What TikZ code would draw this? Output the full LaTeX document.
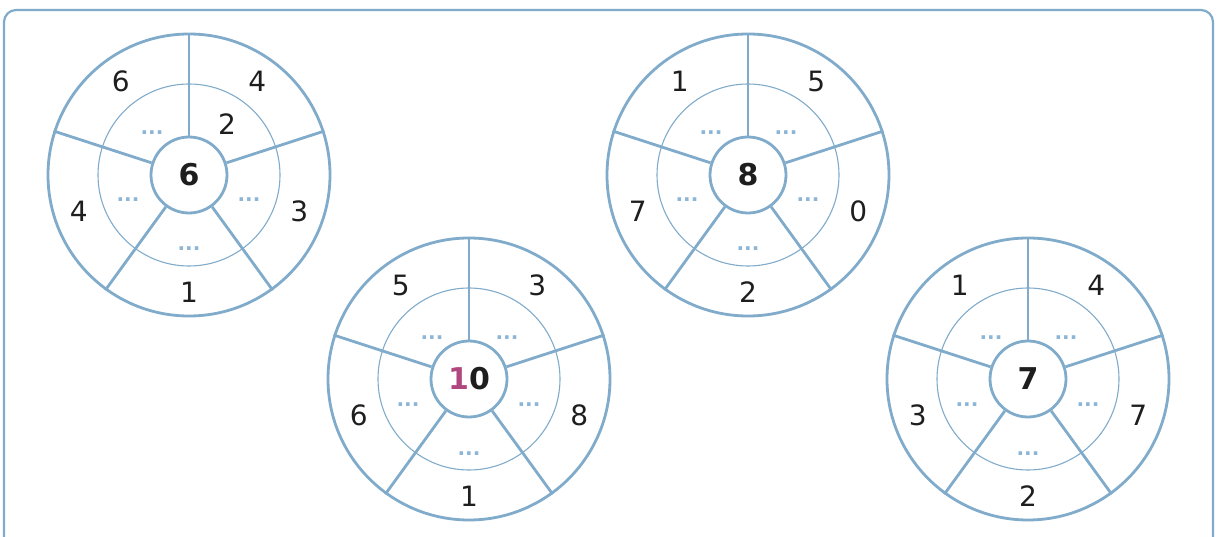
\documentclass[tikz,border=0pt]{standalone}
\usepackage{fontspec}
\setmainfont{DejaVu Sans}
\usepackage{xcolor}
\usepackage{tikz}
\usetikzlibrary{calc,positioning}
\definecolor{wheelblue}{HTML}{80ABCA}
\definecolor{dotblue}{HTML}{8DB6D6}
\definecolor{tenpink}{HTML}{B0487F}
\definecolor{digitblack}{HTML}{1E1E1E}
\newcommand{\wheeldots}{...}

\begin{document}
\begin{tikzpicture}[x=1pt,y=1pt,
        ring/.style={circle, draw=wheelblue, line width=2.8pt, inner sep=0pt},
        thinring/.style={circle, draw=wheelblue, line width=1.1pt, inner sep=0pt},
        spoke/.style={draw=wheelblue, line width=2.8pt},
        digit/.style={font=\fontsize{28}{28}\selectfont, text=digitblack},
        middigit/.style={font=\fontsize{30}{30}\selectfont\bfseries, text=digitblack},
        dotmark/.style={font=\fontsize{20}{20}\selectfont\bfseries, text=dotblue, anchor=base}]
    \useasboundingbox (0,0) rectangle (1221,-537);
    % frame
    \draw[draw=wheelblue, line width=2.2pt, rounded corners=12pt] (4,-10) rectangle (1213,-560);
    % wheels
    \foreach \w/\cx/\cy/\mid/\ul/\ur/\rt/\bt/\lt/\inr in {
            1/189/175/6/6/4/3/1/4/{\textcolor{digitblack}{\fontsize{28}{28}\selectfont\mdseries 2}},
            2/469/379/{\textcolor{tenpink}{1}0}/5/3/8/1/6/\wheeldots,
            3/748/175/8/1/5/0/2/7/\wheeldots,
            4/1028/379/7/1/4/7/2/3/\wheeldots}{
        \coordinate (w\w) at (\cx,-\cy);
        \node[ring, minimum size=282pt] (w\w out) at (w\w) {};
        \node[thinring, minimum size=182pt] (w\w in) at (w\w) {};
        \node[ring, fill=white, minimum size=76pt, middigit] (w\w c) at (w\w) {\mid};
        \foreach \a in {90,18,-54,-126,162}
            \draw[spoke] (w\w c.\a) -- (w\w out.\a);
        % outer ring
        \node[digit] (w\w o1) at ($(w\w)+(126:116)$) {\ul};
        \node[digit] (w\w o2) at ($(w\w)+(54:116)$) {\ur};
        \node[digit] (w\w o3) at ($(w\w)+(-18:116)$) {\rt};
        \node[digit] (w\w o4) at ($(w\w)+(-90:117)$) {\bt};
        \node[digit] (w\w o5) at ($(w\w)+(198:116)$) {\lt};
        % inner ring
        \node[dotmark] (w\w i1) at ($(w\w)+(-37,40)$) {\wheeldots};
        \node[dotmark] (w\w i2) at ($(w\w)+(38,40)$) {\inr};
        \node[dotmark] (w\w i3) at ($(w\w)+(60,-27)$) {\wheeldots};
        \node[dotmark] (w\w i4) at ($(w\w)+(0,-76)$) {\wheeldots};
        \node[dotmark] (w\w i5) at ($(w\w)+(-61,-27)$) {\wheeldots};
    }
\end{tikzpicture}
\end{document}
